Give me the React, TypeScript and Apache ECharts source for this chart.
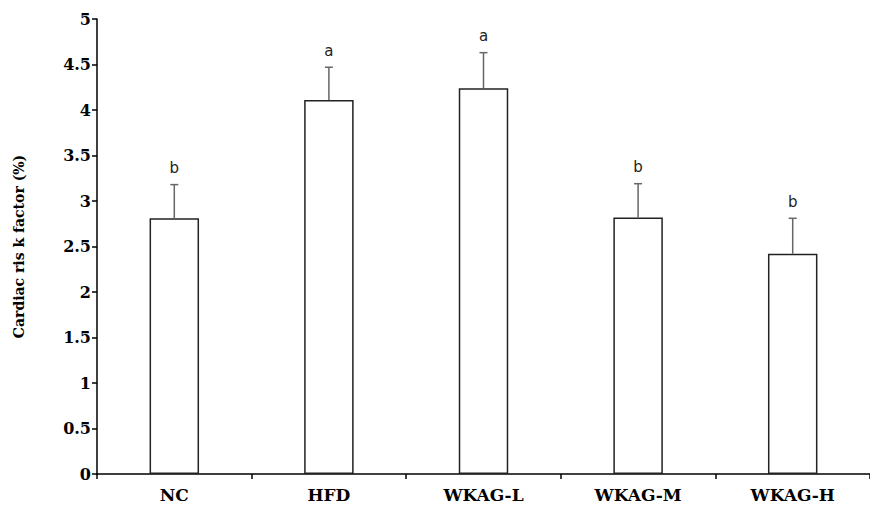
import React, { useEffect, useRef } from "react";
import * as echarts from "echarts";

const categories = ["NC", "HFD", "WKAG-L", "WKAG-M", "WKAG-H"];
const means = [2.81, 4.11, 4.24, 2.82, 2.42];
const errorTops = [3.18, 4.47, 4.63, 3.19, 2.81];
const letters = ["b", "a", "a", "b", "b"];
const yTicks = ["0", "0.5", "1", "1.5", "2", "2.5", "3", "3.5", "4", "4.5", "5"];

export default function App() {
  const ref = useRef<HTMLDivElement>(null);
  useEffect(() => {
    if (!ref.current) return;
    const chart = echarts.init(ref.current, null, { renderer: "svg" });
    const serif = "'DejaVu Serif', 'Liberation Serif', serif";
    chart.setOption({
      animation: false,
      grid: { left: 97, right: -7, top: 19, bottom: 31, containLabel: false },
      xAxis: {
        type: "category",
        data: categories,
        axisLine: { lineStyle: { color: "#000", width: 1.5 } },
        axisTick: { show: true, length: 5, inside: false, alignWithLabel: false, lineStyle: { color: "#000", width: 1.5 } },
        axisLabel: { color: "#000", fontFamily: serif, fontWeight: "bold", fontSize: 17, margin: 12 },
        splitLine: { show: false },
      },
      yAxis: {
        type: "value",
        min: 0,
        max: 5,
        interval: 0.5,
        name: "Cardiac ris k factor (%)",
        nameLocation: "middle",
        nameGap: 71,
        nameTextStyle: { color: "#000", fontFamily: serif, fontWeight: "bold", fontSize: 14 },
        axisLine: { show: true, lineStyle: { color: "#000", width: 1.5 } },
        axisTick: { show: true, length: 5, lineStyle: { color: "#000", width: 1.5 } },
        axisLabel: {
          color: "#000",
          fontFamily: serif,
          fontWeight: "bold",
          fontSize: 16,
          margin: 6,
          formatter: (v: number) => {
            const i = Math.round(v * 2);
            return yTicks[i] ?? String(v);
          },
        },
        splitLine: { show: false },
      },
      series: [
        {
          type: "bar",
          data: means,
          barWidth: "32%",
          itemStyle: { color: "#fff", borderColor: "#222", borderWidth: 1.5 },
          z: 2,
        },
        {
          type: "custom",
          data: means.map((m, i) => [i, m, errorTops[i]]),
          renderItem: (params: any, api: any) => {
            const x = api.value(0);
            const base = api.coord([x, api.value(1)]);
            const top = api.coord([x, api.value(2)]);
            const letter = letters[params.dataIndex];
            return {
              type: "group",
              children: [
                {
                  type: "line",
                  shape: { x1: base[0], y1: base[1], x2: top[0], y2: top[1] },
                  style: { stroke: "#666", lineWidth: 1.5 },
                },
                {
                  type: "line",
                  shape: { x1: top[0] - 4, y1: top[1], x2: top[0] + 4, y2: top[1] },
                  style: { stroke: "#666", lineWidth: 1.5 },
                },
                {
                  type: "text",
                  x: top[0],
                  y: top[1] - 9,
                  style: {
                    text: letter,
                    fill: "#222",
                    font: "15px 'DejaVu Sans', sans-serif",
                    align: "center",
                    verticalAlign: "bottom",
                  },
                },
              ],
            };
          },
          z: 3,
        },
      ],
    });
    return () => chart.dispose();
  }, []);
  return <div ref={ref} style={{ width: 870, height: 505, position: "absolute", left: 0, top: 0, background: "#fff" }} />;
}
